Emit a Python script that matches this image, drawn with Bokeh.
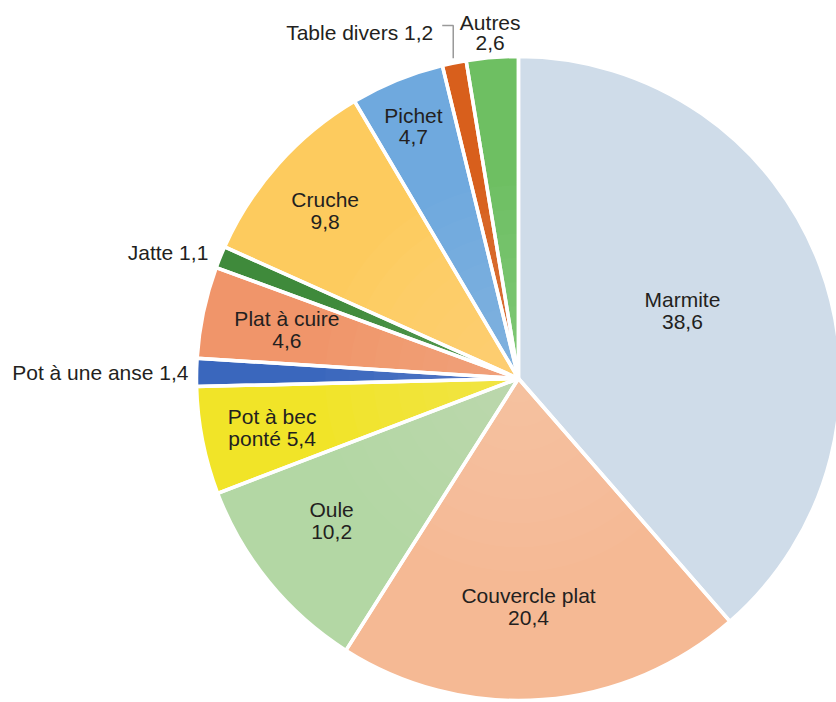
import math
from bokeh.plotting import figure
from bokeh.models import Range1d, ColumnDataSource
from bokeh.embed import file_html
from bokeh.resources import INLINE
from bokeh.core.properties import value

# ---- data ----
categories = ["Marmite", "Couvercle plat", "Oule", "Pot à bec ponté", "Pot à une anse",
              "Plat à cuire", "Jatte", "Cruche", "Pichet", "Table divers", "Autres"]
values = [38.6, 20.4, 10.2, 5.4, 1.4, 4.6, 1.1, 9.8, 4.7, 1.2, 2.6]
value_labels = ["38,6", "20,4", "10,2", "5,4", "1,4", "4,6", "1,1", "9,8", "4,7", "1,2", "2,6"]
colors = ["#cfdce9", "#f5b994", "#b3d7a4", "#f1e428", "#3a67bd", "#f0956a",
          "#3f8a3b", "#fdcb5e", "#6fa9de", "#d85f1c", "#6ebf62"]

# ---- layout ----
W, H = 836, 702
CX, CY = 518, 702 - 378
R = 322
FONT = value("Liberation Sans")
TXT = "#231f20"
FS = "21px"

p = figure(width=W, height=H, output_backend="svg", toolbar_location=None,
           x_range=Range1d(0, W), y_range=Range1d(0, H), min_border=0)
p.axis.visible = False
p.grid.visible = False
p.outline_line_color = None
p.background_fill_color = "white"
p.border_fill_color = "white"

total = sum(values)
starts, ends, mids = [], [], []
cum = 0.0
for v in values:
    a0 = math.pi / 2 - 2 * math.pi * cum / total
    cum += v
    a1 = math.pi / 2 - 2 * math.pi * cum / total
    starts.append(a0)
    ends.append(a1)
    mids.append((a0 + a1) / 2)

src = ColumnDataSource(dict(start=starts, end=ends, color=colors,
                            x=[CX] * len(values), y=[CY] * len(values)))
p.wedge(x="x", y="y", radius=R, start_angle="start", end_angle="end",
        direction="clock", fill_color="color", line_color=None, source=src)

# very soft lightening near the centre
steps = 8
for k in range(steps):
    r = R * 0.6 * (1 - k / steps)
    p.circle(x=CX, y=CY, radius=r, fill_color="white", fill_alpha=0.02, line_color=None)

# white separators
p.wedge(x="x", y="y", radius=R, start_angle="start", end_angle="end",
        direction="clock", fill_color=None, line_color="white", line_width=3.5, source=src)

def pt(i, frac, dphi=0.0):
    a = mids[i] + math.radians(dphi)
    return CX + frac * R * math.cos(a), CY + frac * R * math.sin(a)

# inside labels: index -> (radial fraction, angular shift in degrees)
inside = {0: (0.551, 2.0), 1: (0.709, -1.8), 2: (0.729, -2.0), 3: (0.78, 0.0),
          5: (0.735, 0.0), 7: (0.795, 0.8), 8: (0.848, 0.5)}
for i, (f, d) in inside.items():
    x, y = pt(i, f, d)
    if i == 3:
        l1, l2 = "Pot à bec", "ponté " + value_labels[i]
    else:
        l1, l2 = categories[i], value_labels[i]
    p.text(x=[x], y=[y], text=[l1], text_align="center", text_baseline="middle",
           y_offset=-11, text_font=FONT, text_font_size=FS, text_color=TXT)
    p.text(x=[x], y=[y], text=[l2], text_align="center", text_baseline="middle",
           y_offset=11, text_font=FONT, text_font_size=FS, text_color=TXT)

# outside single-line labels, right aligned
for i, f in {4: 1.025, 6: 1.04}.items():
    x, y = pt(i, f)
    p.text(x=[x], y=[y], text=[categories[i] + " " + value_labels[i]], text_align="right",
           text_baseline="middle", text_font=FONT, text_font_size=FS, text_color=TXT)

# Autres (two lines, above)
x, y = pt(10, 1.077)
p.text(x=[x], y=[y], text=[categories[10]], text_align="center", text_baseline="middle",
       y_offset=-10, text_font=FONT, text_font_size=FS, text_color=TXT)
p.text(x=[x], y=[y], text=[value_labels[10]], text_align="center", text_baseline="middle",
       y_offset=10, text_font=FONT, text_font_size=FS, text_color=TXT)

# Table divers with leader line
x0, y0 = pt(9, 1.015)
ytop = CY + R + 31
p.line(x=[x0, x0, x0 - 11], y=[y0, ytop, ytop], line_color="#9a9a9a", line_width=1.5)
p.text(x=[x0 - 20], y=[ytop - 7], text=[categories[9] + " " + value_labels[9]],
       text_align="right", text_baseline="middle", text_font=FONT,
       text_font_size=FS, text_color=TXT)

open("out.html", "w").write(file_html(p, INLINE))
